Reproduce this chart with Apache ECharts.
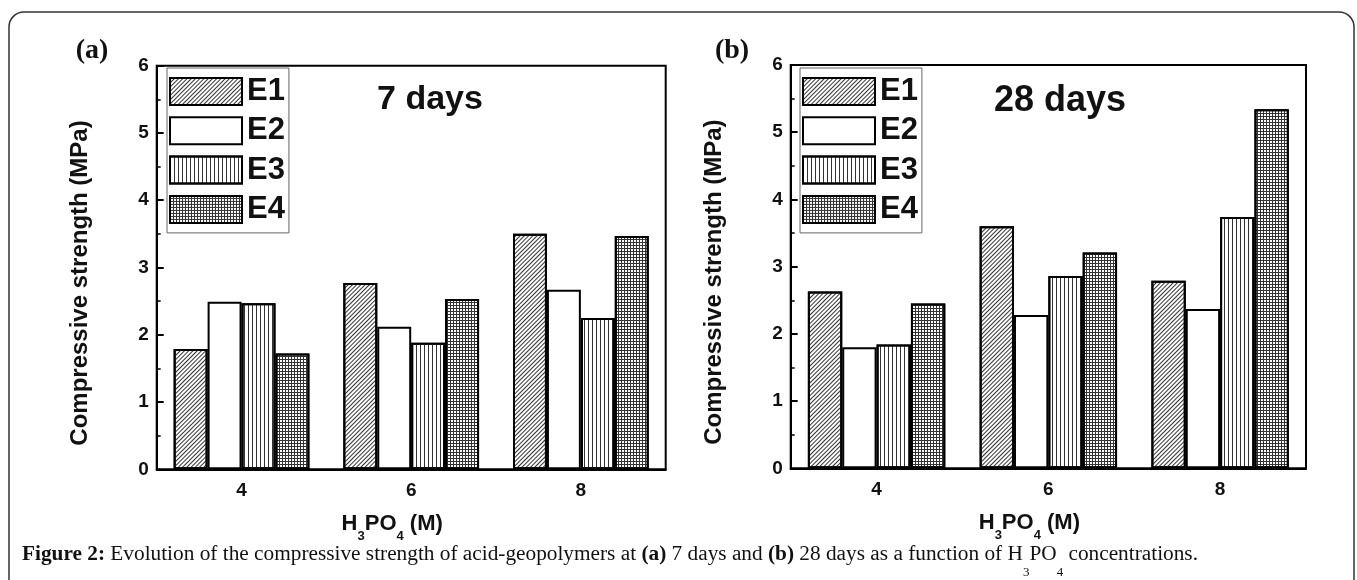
<!DOCTYPE html>
<html>
<head>
<meta charset="utf-8">
<script src="https://cdn.jsdelivr.net/npm/echarts@6/dist/echarts.min.js"></script>
<style>
  html, body { margin: 0; padding: 0; background: #fff; }
  #main { width: 1357px; height: 580px; }
</style>
</head>
<body>
<div id="main"></div>
<script>
// H3PO4 concentration (M)
var categories = ['4', '6', '8'];
var seriesNames = ['E1', 'E2', 'E3', 'E4'];
// 7 days, compressive strength (MPa)
var days7E1 = [1.79, 2.77, 3.50];
var days7E2 = [2.49, 2.12, 2.67];
var days7E3 = [2.47, 1.88, 2.25];
var days7E4 = [1.72, 2.53, 3.47];
// 28 days
var days28E1 = [2.63, 3.60, 2.79];
var days28E2 = [1.80, 2.28, 2.37];
var days28E3 = [1.84, 2.86, 3.74];
var days28E4 = [2.45, 3.21, 5.34];
var yMin = 0, yMax = 6, yStep = 1;

var myChart = echarts.init(document.getElementById('main'));

// fill patterns, one per sample
var decals = [
  { symbol: 'rect', symbolSize: 1, symbolKeepAspect: false, color: '#333',
    dashArrayX: [8, 0], dashArrayY: [1, 2], rotation: -Math.PI / 4 },
  null,
  { symbol: 'rect', symbolSize: 1, symbolKeepAspect: false, color: '#333',
    dashArrayX: [1, 3], dashArrayY: [4, 0] },
  { symbol: 'rect', symbolSize: 1, symbolKeepAspect: false, color: '#333',
    dashArrayX: [[3, 0], [1, 2], [1, 2]], dashArrayY: [1, 0] }
];

var sans = 'Liberation Sans, Arial, sans-serif';
var serif = 'Liberation Serif, Times New Roman, serif';

function makeBar(name, idx, data, xi, yi) {
  var style = { color: '#fff', borderColor: '#000', borderWidth: 2 };
  if (decals[idx]) style.decal = decals[idx];
  return {
    name: name, type: 'bar', xAxisIndex: xi, yAxisIndex: yi,
    barGap: '0%', barCategoryGap: '20%',
    itemStyle: style, data: data, silent: true
  };
}

function xMain(grid) {
  return {
    type: 'category', gridIndex: grid, position: 'bottom', data: categories,
    axisLine: { lineStyle: { color: '#000', width: 2 } },
    axisTick: { inside: true, alignWithLabel: true, length: 5, lineStyle: { color: '#000', width: 2 } },
    axisLabel: { fontSize: 19, fontWeight: 'bold', fontFamily: sans, color: '#111', margin: 12 },
    name: 'H{s|3}PO{s|4} (M)', nameLocation: 'middle', nameGap: 36,
    nameTextStyle: {
      fontSize: 22, fontWeight: 'bold', fontFamily: sans, color: '#111', padding: [0, 38, 0, 0],
      rich: { s: { fontSize: 13, fontWeight: 'bold', fontFamily: sans, color: '#111', lineHeight: 13, padding: [25, 0, 0, 0] } }
    }
  };
}
function xMinor(grid) {
  // small ticks between the groups
  return {
    type: 'category', gridIndex: grid, position: 'bottom', data: categories,
    axisLine: { show: false },
    axisTick: { inside: true, length: 3, lineStyle: { color: '#000', width: 2 } },
    axisLabel: { show: false }
  };
}
function yAxisOf(grid) {
  return {
    type: 'value', gridIndex: grid, min: yMin, max: yMax, interval: yStep,
    axisLine: { show: true, lineStyle: { color: '#000', width: 2 } },
    axisTick: { show: true, inside: true, length: 7, lineStyle: { color: '#000', width: 2 } },
    minorTick: { show: true, splitNumber: 2, length: 4, lineStyle: { color: '#000', width: 1.5 } },
    splitLine: { show: false },
    axisLabel: { fontSize: 19, fontWeight: 'bold', fontFamily: sans, color: '#111', margin: 8 },
    name: 'Compressive strength (MPa)', nameLocation: 'middle', nameGap: 64,
    nameTextStyle: { fontSize: 24, fontWeight: 'bold', fontFamily: sans, color: '#111', padding: [0, 31, 0, 0] }
  };
}
function legendAt(left) {
  return {
    data: seriesNames, orient: 'vertical', left: left, top: 68,
    icon: 'rect', itemWidth: 72, itemHeight: 27, itemGap: 8.3,
    padding: [8, 4, 8, 2], borderColor: '#666', borderWidth: 1,
    itemStyle: { borderColor: '#000', borderWidth: 2 },
    textStyle: { fontSize: 31, fontWeight: 'bold', fontFamily: sans, color: '#111', lineHeight: 27 }
  };
}

var option = {
  backgroundColor: '#fff',
  animation: false,
  grid: [
    { left: 156.7, top: 65.7, width: 509, height: 403.6, show: true, borderColor: '#000', borderWidth: 2, backgroundColor: 'transparent' },
    { left: 790.7, top: 65, width: 515.3, height: 403.3, show: true, borderColor: '#000', borderWidth: 2, backgroundColor: 'transparent' }
  ],
  legend: [legendAt(167), legendAt(800)],
  xAxis: [xMain(0), xMinor(0), xMain(1), xMinor(1)],
  yAxis: [yAxisOf(0), yAxisOf(1)],
  series: [
    makeBar('E1', 0, days7E1, 0, 0),
    makeBar('E2', 1, days7E2, 0, 0),
    makeBar('E3', 2, days7E3, 0, 0),
    makeBar('E4', 3, days7E4, 0, 0),
    makeBar('E1', 0, days28E1, 2, 1),
    makeBar('E2', 1, days28E2, 2, 1),
    makeBar('E3', 2, days28E3, 2, 1),
    makeBar('E4', 3, days28E4, 2, 1)
  ],
  graphic: [
    { type: 'rect', shape: { x: 9, y: 12, width: 1345, height: 620, r: 15 }, silent: true,
      style: { fill: 'none', stroke: '#333', lineWidth: 1.5 } },
    { type: 'text', x: 92, y: 51, silent: true,
      style: { text: '(a)', font: 'bold 28px ' + serif, fill: '#111', textAlign: 'center', textVerticalAlign: 'middle' } },
    { type: 'text', x: 732, y: 51, silent: true,
      style: { text: '(b)', font: 'bold 28px ' + serif, fill: '#111', textAlign: 'center', textVerticalAlign: 'middle' } },
    { type: 'text', x: 430, y: 100, silent: true,
      style: { text: '7 days', font: 'bold 34px ' + sans, fill: '#111', textAlign: 'center', textVerticalAlign: 'middle' } },
    { type: 'text', x: 1060, y: 101, silent: true,
      style: { text: '28 days', font: 'bold 36px ' + sans, fill: '#111', textAlign: 'center', textVerticalAlign: 'middle' } },
    { type: 'text', x: 22, y: 554, silent: true,
      style: {
        text: '{b|Figure 2:} Evolution of the compressive strength of acid-geopolymers at {b|(a)} 7 days and {b|(b)} 28 days as a function of H{s|3}PO{s|4} concentrations.',
        fontSize: 21.3, fontFamily: serif, fill: '#111', textVerticalAlign: 'middle',
        rich: {
          b: { fontSize: 21.3, fontFamily: serif, fontWeight: 'bold', fill: '#111' },
          s: { fontSize: 13, fontFamily: serif, fill: '#111', lineHeight: 13, padding: [38, 0, 0, 0] }
        }
      } }
  ]
};

myChart.setOption(option);
</script>
</body>
</html>
